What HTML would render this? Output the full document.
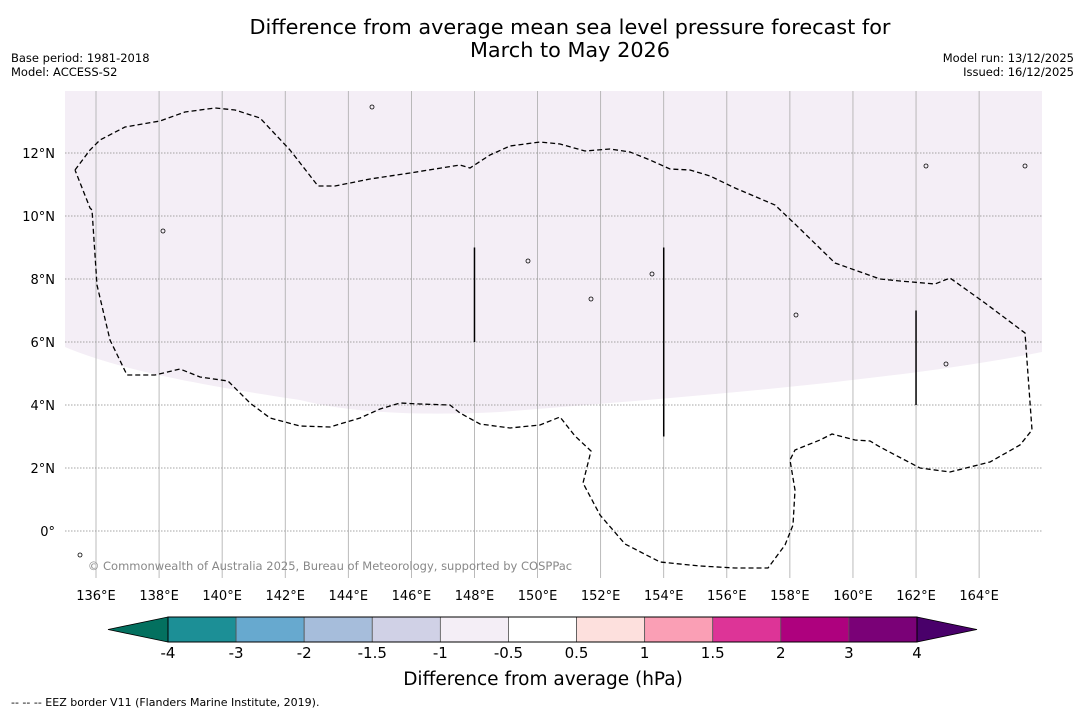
<!DOCTYPE html>
<html><head><meta charset="utf-8"><style>
body{margin:0;background:#fff;font-family:"DejaVu Sans","Liberation Sans",sans-serif;}
svg{display:block}
</style></head><body>
<svg id="c" width="1085" height="713" xmlns="http://www.w3.org/2000/svg">
<text x="570" y="34" font-size="20.8" text-anchor="middle">Difference from average mean sea level pressure forecast for</text>
<text x="570" y="57" font-size="20.8" text-anchor="middle">March to May 2026</text>
<text x="11" y="62" font-size="11.5">Base period: 1981-2018</text>
<text x="11" y="76" font-size="11.5">Model: ACCESS-S2</text>
<text x="1074" y="62" font-size="11.5" text-anchor="end">Model run: 13/12/2025</text>
<text x="1074" y="76" font-size="11.5" text-anchor="end">Issued: 16/12/2025</text>
<g id="map"></g>
<g id="cb"></g>
<text x="543" y="685" font-size="18.5" text-anchor="middle">Difference from average (hPa)</text>
<text x="11" y="706" font-size="11">--  --  -- EEZ border V11 (Flanders Marine Institute, 2019).</text>
</svg>
<script>
const NS="http://www.w3.org/2000/svg";
const lonTicks=[136,138,140,142,144,146,148,150,152,154,156,158,160,162,164];
const latTicks=[12,10,8,6,4,2,0];
const cbBounds=["-4","-3","-2","-1.5","-1","-0.5","0.5","1","1.5","2","3","4"];
const cbColors=["#1c8f96","#67a9cf","#a6bddb","#d0d1e6","#f4eef6","#ffffff","#fde0dd","#fa9fb5","#dd3497","#ae017e","#7a0177"];
const eezPx=[[75,170],[90,150],[100,140],[125,127],[160,121],[185,112],[215,108],[235,110],[260,118],[290,150],[318,186],[335,186],[370,179],[410,173],[460,165],[470,168],[490,155],[510,146],[540,142],[560,144],[585,151],[610,149],[630,152],[650,160],[670,169],[690,170],[710,176],[735,188],[775,205],[795,224],[835,263],[880,279],[900,281],[935,284],[950,278],[985,303],[1025,333],[1032,430],[1020,445],[990,462],[950,472],[920,468],[880,447],[870,441],[855,440],[832,434],[820,440],[795,450],[790,460],[795,490],[793,525],[785,545],[768,568],[735,568],[700,566],[660,562],[625,544],[600,515],[583,483],[591,451],[575,436],[560,417],[540,425],[510,428],[480,424],[460,413],[450,405],[420,404],[400,403],[380,409],[360,418],[330,427],[300,426],[270,418],[250,403],[230,383],[228,381],[200,377],[180,369],[155,375],[127,375],[110,340],[97,285],[92,210],[90,208],[75,170]];
const vLines=[[148,9,6],[154,9,3],[162,7,4]];
const X=lon=>96+(lon-136)*31.54, Y=lat=>531-lat*31.5;
const lonOf=x=>136+(x-96)/31.54, latOf=y=>(531-y)/31.5;
const eez=eezPx.map(p=>[lonOf(p[0]),latOf(p[1])]);
const map=document.getElementById('map');
function el(t,a,p){const e=document.createElementNS(NS,t);for(const k in a)e.setAttribute(k,a[k]);(p||map).appendChild(e);return e;}
el('rect',{x:65,y:91,width:977,height:487,fill:'#fff'});
let sh=el('path',{d:'M65,91 L1042,91 L1042,352 C900,380 700,396 500,412 C420,416 350,413 300,400 C200,385 120,370 65,347 Z',fill:'#f4eef6'});


lonTicks.forEach(l=>{const g=el('line',{x1:X(l),x2:X(l),y1:91,y2:578,stroke:'#aaa','stroke-width':0.8});

const t=el('text',{x:X(l),y:600,'font-size':13,'text-anchor':'middle'});t.textContent=l+'°E';
});
latTicks.forEach(l=>{const g=el('line',{x1:65,x2:1042,y1:Y(l),y2:Y(l),stroke:'#888','stroke-width':0.8,'stroke-dasharray':'1.5,1.5'});

const t=el('text',{x:55,y:Y(l)+5,'font-size':13,'text-anchor':'end'});t.textContent=l===0?'0°':l+'°N';
});
let e=el('path',{d:'M'+eez.map(p=>X(p[0]).toFixed(1)+','+Y(p[1]).toFixed(1)).join(' L'),fill:'none',stroke:'#000','stroke-width':1.3,'stroke-dasharray':'5,3'});

vLines.forEach(v=>{const l=el('line',{x1:X(v[0]),x2:X(v[0]),y1:Y(v[1]),y2:Y(v[2]),stroke:'#000','stroke-width':1.5});
});
[[372,107],[163,231],[528,261],[591,299],[796,315],[946,364],[652,274],[1025,166],[926,166],[80,555]].forEach(p=>{const i=el('circle',{cx:p[0],cy:p[1],r:2,fill:'none',stroke:'#000','stroke-width':0.8});
});
const cp=el('text',{x:330,y:570,'font-size':11.5,fill:'#888','text-anchor':'middle'});cp.textContent='© Commonwealth of Australia 2025, Bureau of Meteorology, supported by COSPPac';

const cb=document.getElementById('cb');
const c0=168,c1=917,w=(c1-c0)/cbColors.length,y0=617,y1=642;
let lt=el('path',{d:`M${c0},${y0} L108,${(y0+y1)/2} L${c0},${y1} Z`,fill:'#03705f',stroke:'#000','stroke-width':0.8},cb);

let rt=el('path',{d:`M${c1},${y0} L977,${(y0+y1)/2} L${c1},${y1} Z`,fill:'#49006a',stroke:'#000','stroke-width':0.8},cb);

cbColors.forEach((c,i)=>{const r=el('rect',{x:c0+i*w,y:y0,width:w,height:y1-y0,fill:c,stroke:'#555','stroke-width':0.8},cb);
});
el('rect',{x:c0,y:y0,width:c1-c0,height:y1-y0,fill:'none',stroke:'#000','stroke-width':1},cb);
cbBounds.forEach((b,i)=>{const t=el('text',{x:c0+i*w,y:658,'font-size':15,'text-anchor':'middle'},cb);t.textContent=b;
});
</script>
</body></html>
